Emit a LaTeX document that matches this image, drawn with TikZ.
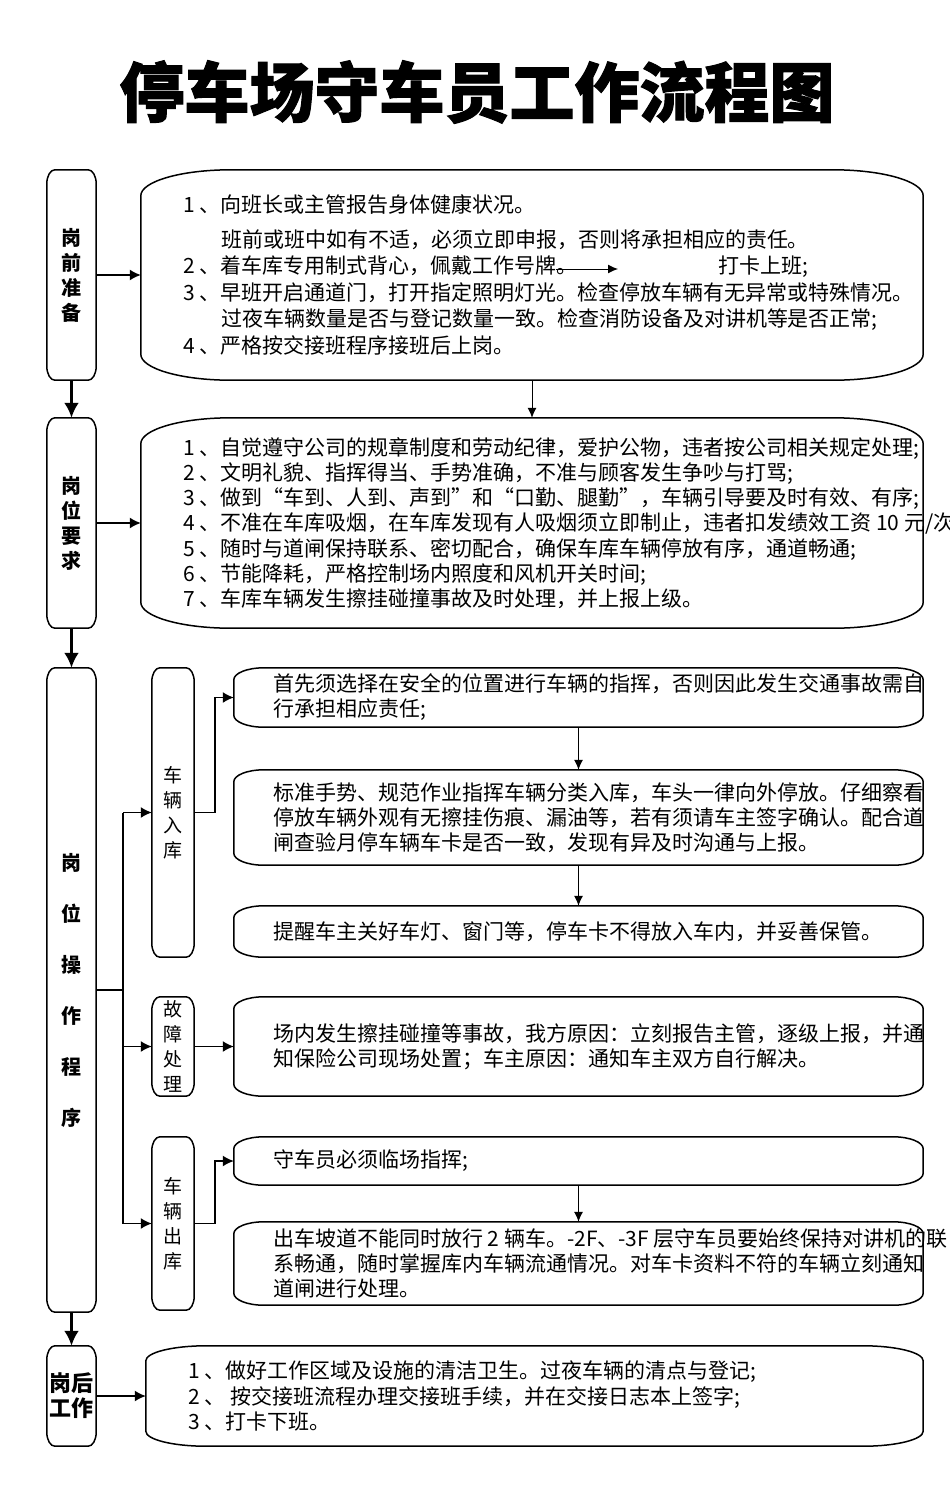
\documentclass[tikz,border=0pt]{standalone}
\usepackage{fontspec}
\setmainfont{Noto Sans CJK SC}
\newfontfamily\titlefont[BoldFeatures={FakeBold=1.5}]{Noto Sans CJK SC}
\usetikzlibrary{arrows.meta}

% box outline with flat elliptic corners
\newcommand\eframe[3]{%
  \draw[boxline] ([xshift=#2]#1.north west) -- ([xshift=-#2]#1.north east)
    arc[start angle=90, end angle=0, x radius=#2, y radius=#3]
    -- ([yshift=#3]#1.south east)
    arc[start angle=0, end angle=-90, x radius=#2, y radius=#3]
    -- ([xshift=#2]#1.south west)
    arc[start angle=270, end angle=180, x radius=#2, y radius=#3]
    -- ([yshift=-#3]#1.north west)
    arc[start angle=180, end angle=90, x radius=#2, y radius=#3] -- cycle;}

\begin{document}
\begin{tikzpicture}[x=1pt, y=-1pt,
  boxline/.style={line width=1.5pt},
  lbox/.style={minimum width=49pt, inner sep=0pt, align=center, font=\fontsize{20}{25}\selectfont\bfseries},
  sbox/.style={minimum width=42pt, inner sep=0pt, align=center, font=\fontsize{19}{25}\selectfont},
  rbox/.style={inner sep=0pt},
  txt/.style={anchor=west, inner sep=0pt, align=left, font=\fontsize{21}{25}\selectfont},
  mainarrow/.style={-{Latex[length=15pt,width=15pt]}, line width=3.5pt},
  linkarrow/.style={-{Latex[length=11pt,width=11pt]}, line width=1.5pt},
  steparrow/.style={-{Latex[length=10pt,width=9pt]}, line width=1pt}]

\fill[white] (0,0) rectangle (950,1497);
\useasboundingbox (0,0) rectangle (950,1497);

\node[font=\titlefont\bfseries\fontsize{65}{65}\selectfont] (title) at (477,92) {停车场守车员工作流程图};

% left column
\node[lbox, minimum height=210pt] (L1) at (71.5,275) {岗\\前\\准\\备};
\node[lbox, minimum height=210pt] (L2) at (71.5,523) {岗\\位\\要\\求};
\node[lbox, minimum height=644pt, font=\fontsize{20}{51}\selectfont\bfseries] (L3) at (71.5,990) {岗\\位\\操\\作\\程\\序};
\node[lbox, minimum height=100pt, font=\fontsize{22}{25}\selectfont\bfseries] (L4) at (71.5,1396) {岗后\\工作};

\draw[mainarrow] (L1) -- (L2);
\draw[mainarrow] (L2) -- (L3);
\draw[mainarrow] (L3) -- (L4);

% before and on duty
\node[rbox, minimum width=782pt, minimum height=210pt] (R1) at (532,275) {};
\node[txt, font=\fontsize{21}{26.5}\selectfont] (t1) at ([xshift=42pt]R1.west) {1 、向班长或主管报告身体健康状况。\\[8pt]
\hspace*{38pt}班前或班中如有不适，必须立即申报，否则将承担相应的责任。\\
2 、着车库专用制式背心，佩戴工作号牌。\\
3 、早班开启通道门，打开指定照明灯光。检查停放车辆有无异常或特殊情况。\\
\hspace*{38pt}过夜车辆数量是否与登记数量一致。检查消防设备及对讲机等是否正常;\\
4 、严格按交接班程序接班后上岗。};
\node[txt] (t1b) at (718,267) {打卡上班;};
\coordinate (k1) at (556,269);
\coordinate (k2) at (618,269);
\draw[steparrow] (k1) -- (k2);

\node[rbox, minimum width=782pt, minimum height=210pt] (R2) at (532,523) {};
\node[txt, font=\fontsize{21}{25.2}\selectfont] (t2) at ([xshift=42pt]R2.west) {1 、自觉遵守公司的规章制度和劳动纪律，爱护公物，违者按公司相关规定处理;\\
2 、文明礼貌、指挥得当、手势准确，不准与顾客发生争吵与打骂;\\
3 、做到“车到、人到、声到”和“口勤、腿勤”，车辆引导要及时有效、有序;\\
4 、不准在车库吸烟，在车库发现有人吸烟须立即制止，违者扣发绩效工资 10 元/次;\\
5 、随时与道闸保持联系、密切配合，确保车库车辆停放有序，通道畅通;\\
6 、节能降耗，严格控制场内照度和风机开关时间;\\
7 、车库车辆发生擦挂碰撞事故及时处理，并上报上级。};

\draw[linkarrow] (L1) -- (R1);
\draw[linkarrow] (L2) -- (R2);
\draw[steparrow] (R1) -- (R2);

% operation
\node[sbox, minimum height=289pt] (S1) at (173,812.5) {车\\辆\\入\\库};
\node[sbox, minimum height=99pt] (S2) at (173,1046.5) {故\\障\\处\\理};
\node[sbox, minimum height=173pt] (S3) at (173,1223.5) {车\\辆\\出\\库};

\node[rbox, minimum width=689pt, minimum height=59pt] (A1) at (578.5,697.5) {};
\node[txt] (a1) at ([xshift=39pt]A1.west) {首先须选择在安全的位置进行车辆的指挥，否则因此发生交通事故需自\\行承担相应责任;};
\node[rbox, minimum width=689pt, minimum height=95pt] (A2) at (578.5,817.5) {};
\node[txt] (a2) at ([xshift=39pt]A2.west) {标准手势、规范作业指挥车辆分类入库，车头一律向外停放。仔细察看\\停放车辆外观有无擦挂伤痕、漏油等，若有须请车主签字确认。配合道\\闸查验月停车辆车卡是否一致，发现有异及时沟通与上报。};
\node[rbox, minimum width=689pt, minimum height=51pt] (A3) at (578.5,931.5) {};
\node[txt] (a3) at ([xshift=39pt]A3.west) {提醒车主关好车灯、窗门等，停车卡不得放入车内，并妥善保管。};
\node[rbox, minimum width=689pt, minimum height=99pt] (B1) at (578.5,1046.5) {};
\node[txt] (b1) at ([xshift=39pt]B1.west) {场内发生擦挂碰撞等事故，我方原因：立刻报告主管，逐级上报，并通\\知保险公司现场处置；车主原因：通知车主双方自行解决。};
\node[rbox, minimum width=689pt, minimum height=48pt] (C1) at (578.5,1161) {};
\node[txt] (c1) at ([xshift=39pt]C1.west) {守车员必须临场指挥;};
\node[rbox, minimum width=689pt, minimum height=83pt] (C2) at (578.5,1263.5) {};
\node[txt] (c2) at ([xshift=39pt]C2.west) {出车坡道不能同时放行 2 辆车。-2F、-3F 层守车员要始终保持对讲机的联\\系畅通，随时掌握库内车辆流通情况。对车卡资料不符的车辆立刻通知\\道闸进行处理。};

\coordinate (j) at (123,990);
\draw[line width=1.5pt] (L3.east) -- (j);
\draw[line width=1.5pt] (j |- S1.west) -- (j |- S3.west);
\draw[linkarrow] (j |- S1.west) -- (S1.west);
\draw[linkarrow] (j |- S2.west) -- (S2.west);
\draw[linkarrow] (j |- S3.west) -- (S3.west);

\draw[linkarrow] (S1.east) -- ++(21,0) |- (A1.west);
\draw[linkarrow] (S2) -- (B1);
\draw[linkarrow] (S3.east) -- ++(21,0) |- (C1.west);
\draw[steparrow] (A1) -- (A2);
\draw[steparrow] (A2) -- (A3);
\draw[steparrow] (C1) -- (C2);

% after duty
\node[rbox, minimum width=777pt, minimum height=100pt] (R3) at (534.5,1396) {};
\node[txt, font=\fontsize{21}{25.5}\selectfont] (t3) at ([xshift=42pt]R3.west) {1 、做好工作区域及设施的清洁卫生。过夜车辆的清点与登记;\\
2 、 按交接班流程办理交接班手续，并在交接日志本上签字;\\
3 、打卡下班。};
\draw[linkarrow] (L4) -- (R3);

% outlines
\eframe{L1}{8pt}{14pt}
\eframe{L2}{8pt}{14pt}
\eframe{L3}{8pt}{14pt}
\eframe{L4}{8pt}{14pt}
\eframe{S1}{8pt}{14pt}
\eframe{S2}{8pt}{14pt}
\eframe{S3}{8pt}{14pt}
\eframe{R1}{90pt}{26pt}
\eframe{R2}{90pt}{26pt}
\eframe{R3}{60pt}{15pt}
\eframe{A1}{30pt}{12pt}
\eframe{A2}{30pt}{12pt}
\eframe{A3}{30pt}{12pt}
\eframe{B1}{30pt}{12pt}
\eframe{C1}{30pt}{12pt}
\eframe{C2}{30pt}{12pt}
\end{tikzpicture}
\end{document}
